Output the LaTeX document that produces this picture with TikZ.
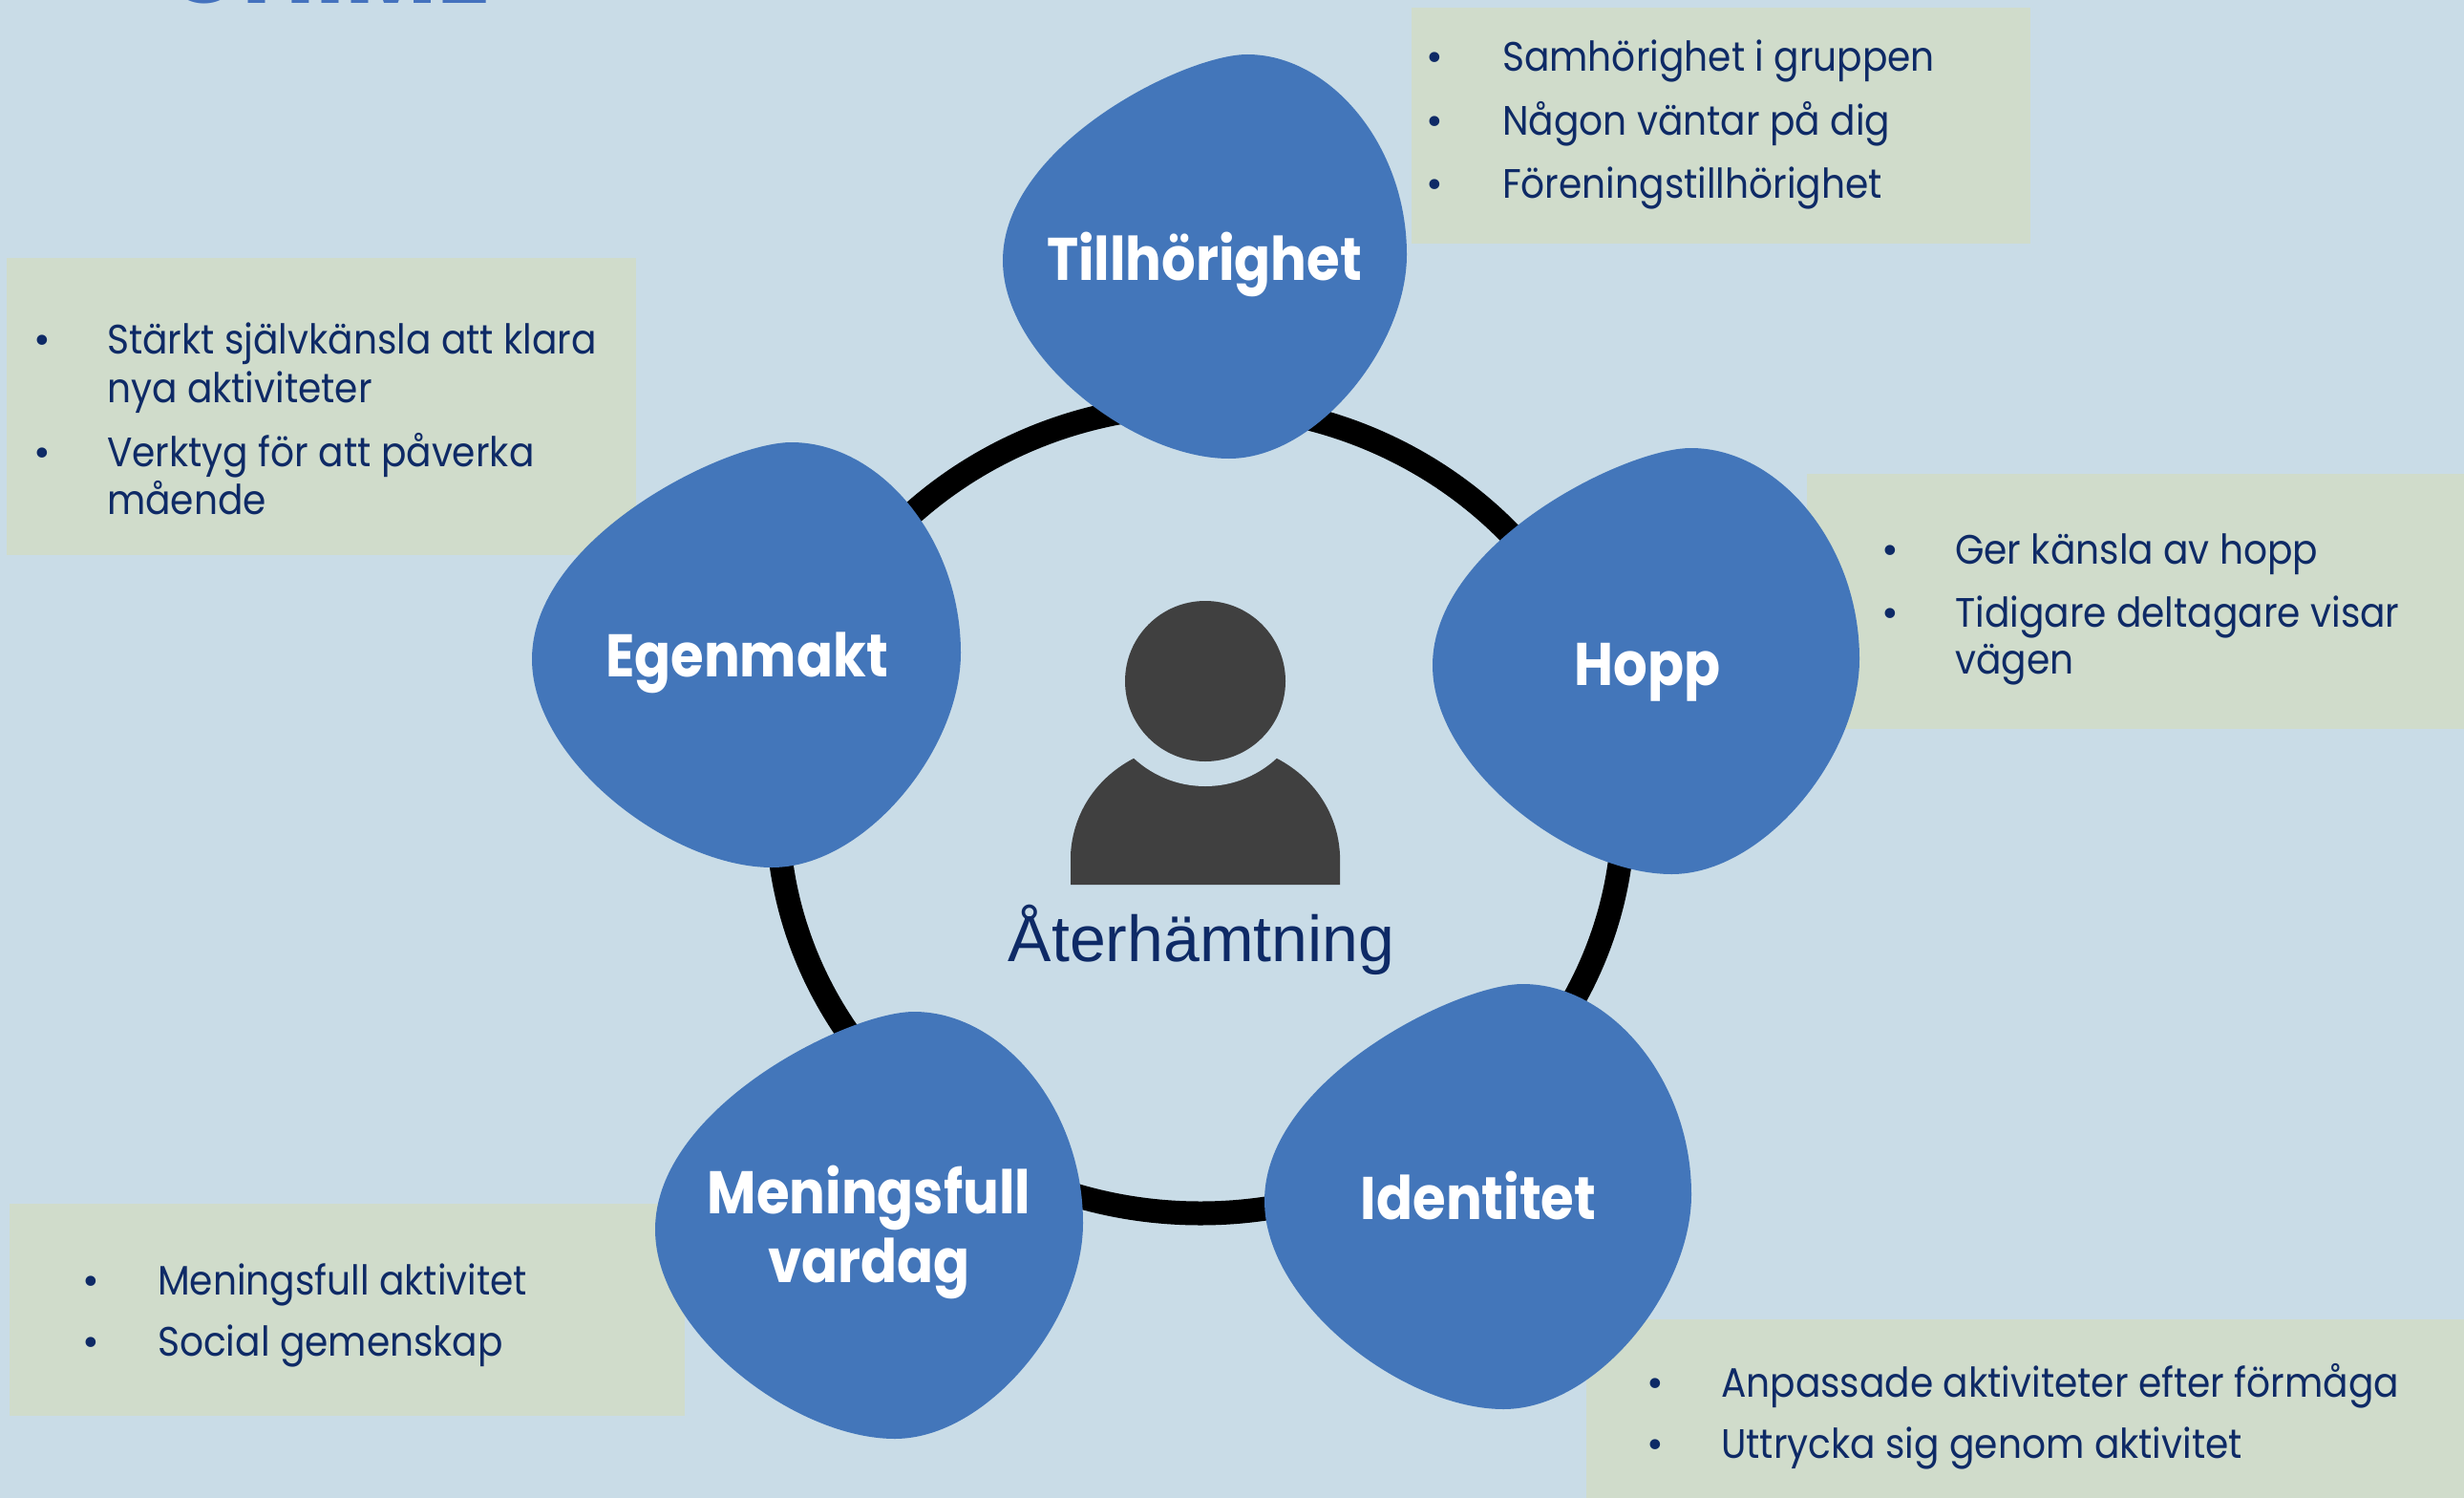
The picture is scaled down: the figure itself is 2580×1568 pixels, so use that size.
\documentclass[tikz,border=0pt]{standalone}
\usepackage{fontspec}
\setmainfont{Poppins}
\newfontfamily\arialf{Liberation Sans}
\newfontfamily\lblfont[FakeStretch=0.89]{Poppins}
\newfontfamily\bulfont[FakeStretch=0.91]{Poppins}
\definecolor{bgc}{HTML}{C9DCE7}
\definecolor{boxc}{HTML}{D0DCCB}
\definecolor{blobc}{HTML}{4376BA}
\definecolor{navy}{HTML}{0E2A66}
\definecolor{iconc}{HTML}{404040}
\definecolor{titlec}{HTML}{4472BE}
\tikzset{
  lbl/.style={text=white, inner sep=0pt, anchor=base, font=\fontsize{63}{72}\lblfont\bfseries},
  btxt/.style={text=navy, inner sep=0pt, anchor=base west, font=\fontsize{43}{50}\bulfont},
  bdot/.style={text=navy, inner sep=0pt, anchor=base, font=\fontsize{43}{50}\selectfont},
  boxfill/.style={fill=boxc},
  blobfill/.style={fill=blobc},
}
\newcommand{\myblob}[4]{%
  \begin{scope}[shift={(#1,#2)}, xscale=#3, yscale=#4]
    \fill[blobfill] (0.21,-1) .. controls (-0.1,-1) and (-1,-0.55) .. (-1,0.02)
      .. controls (-1,0.5) and (-0.35,1) .. (0.12,1)
      .. controls (0.55,1) and (1,0.45) .. (1,-0.01)
      .. controls (1,-0.55) and (0.62,-1) .. (0.21,-1) -- cycle;
  \end{scope}}
\begin{document}
\begin{tikzpicture}[x=1pt,y=-1pt]
\useasboundingbox (0,0) rectangle (2580,1568);
\clip (0,0) rectangle (2580,1568);
\fill[bgc] (0,0) rectangle (2580,1568);
% title (cut off at the top edge)
\node[text=titlec, inner sep=0pt, anchor=base, font=\fontsize{105}{110}\selectfont\bfseries] (title) at (344,4) {CHIME};
% boxes
\fill[boxfill] (1478,8) rectangle (2126,255);
\fill[boxfill] (7,270) rectangle (666,581);
\fill[boxfill] (1892,496) rectangle (2580,763);
\fill[boxfill] (10,1260) rectangle (717,1482);
\fill[boxfill] (1661,1381) rectangle (2580,1568);
% ring
\draw[line width=25pt] (1257,847) ellipse [x radius=443pt, y radius=423pt];
% blobs
\myblob{1261.5}{268.5}{211.5}{211.5}
\myblob{781.5}{685.5}{224.5}{222.5}
\myblob{1723.5}{692}{223.5}{223}
\myblob{910}{1282.5}{224}{223.5}
\myblob{1547.5}{1252.5}{223.5}{222.5}
% labels
\node[lbl] (t1) at (1261,293) {Tillhörighet};
\node[lbl] (t2) at (782,708) {Egenmakt};
\node[lbl] (t3) at (1725,717) {Hopp};
\node[lbl] (t4a) at (910,1270) {Meningsfull};
\node[lbl] (t4b) at (910,1342) {vardag};
\node[lbl] (t5) at (1548,1276) {Identitet};
% person icon
\fill[iconc] (1121,926) -- (1121,895) .. controls (1123,850) and (1150,810) .. (1195,790)
  -- (1329,790) .. controls (1374,810) and (1401,850) .. (1403,895) -- (1403,926) -- cycle;
\fill[bgc] (1262,713) circle (110pt);
\fill[iconc] (1262,713) circle (84pt);
\node[text=navy, inner sep=0pt, anchor=base, font=\fontsize{68}{72}\arialf] (center) at (1258,1006) {Återhämtning};
% bullets top-right
\node[bdot] (a1d) at (1502,75) {•};
\node[btxt] (a1) at (1573,75) {Samhörighet i gruppen};
\node[bdot] (a2d) at (1502,142) {•};
\node[btxt] (a2) at (1573,142) {Någon väntar på dig};
\node[bdot] (a3d) at (1502,207) {•};
\node[btxt] (a3) at (1573,207) {Föreningstillhörighet};
% bullets left
\node[bdot] (b1d) at (44,370) {•};
\node[btxt] (b1) at (112,370) {Stärkt självkänsla att klara};
\node[btxt] (b1b) at (112,421) {nya aktiviteter};
\node[bdot] (b2d) at (44,488) {•};
\node[btxt] (b2) at (112,488) {Verktyg för att påverka};
\node[btxt] (b2b) at (112,538) {mående};
% bullets Hopp
\node[bdot] (c1d) at (1979,590) {•};
\node[btxt] (c1) at (2047,590) {Ger känsla av hopp};
\node[bdot] (c2d) at (1979,656) {•};
\node[btxt] (c2) at (2047,656) {Tidigare deltagare visar};
\node[btxt] (c2b) at (2047,705) {vägen};
% bullets Meningsfull
\node[bdot] (d1d) at (95,1355) {•};
\node[btxt] (d1) at (165,1355) {Meningsfull aktivitet};
\node[bdot] (d2d) at (95,1419) {•};
\node[btxt] (d2) at (165,1419) {Social gemenskap};
% bullets Identitet
\node[bdot] (e1d) at (1733,1462) {•};
\node[btxt] (e1) at (1802,1462) {Anpassade aktiviteter efter förmåga};
\node[bdot] (e2d) at (1733,1526) {•};
\node[btxt] (e2) at (1802,1526) {Uttrycka sig genom aktivitet};
\end{tikzpicture}
\end{document}
